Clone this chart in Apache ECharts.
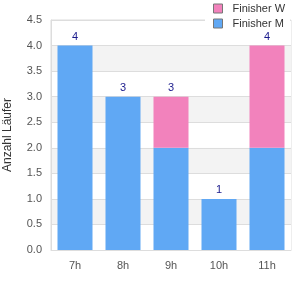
<!DOCTYPE html>
<html>
<head>
<meta charset="utf-8">
<script src="https://cdn.jsdelivr.net/npm/echarts@6/dist/echarts.min.js"></script>
<style>
  html, body { margin: 0; padding: 0; background: #fff; }
  #chart { width: 300px; height: 300px; }
</style>
</head>
<body>
<div id="chart"></div>
<script>
const hours = ['7h', '8h', '9h', '10h', '11h']
const finisherM = [4, 3, 2, 1, 2]
const finisherW = [0, 0, 1, 0, 2]
const totals = hours.map((h, i) => finisherM[i] + finisherW[i])

const chart = echarts.init(document.getElementById('chart'))
const font = 'Liberation Sans'

chart.setOption({
  animation: false,
  textStyle: { fontFamily: font },
  grid: {
    left: 51, right: 9, top: 20, bottom: 50,
    outerBoundsMode: 'none',
    show: true, borderColor: '#dddddd', borderWidth: 1
  },
  legend: {
    orient: 'vertical',
    left: 205,
    top: 0,
    itemWidth: 9,
    itemHeight: 9,
    itemGap: 4,
    icon: 'rect',
    backgroundColor: '#fff',
    padding: [3, 5, 3, 8],
    z: 10,
    textStyle: { fontFamily: font, fontSize: 11, color: '#333', padding: [0, 0, 0, 5] },
    itemStyle: { borderColor: '#777', borderWidth: 1 },
    data: ['Finisher W', 'Finisher M']
  },
  xAxis: {
    type: 'category',
    data: hours,
    axisLine: { lineStyle: { color: '#dddddd' } },
    axisTick: { show: false },
    axisLabel: { color: '#555', fontSize: 11, margin: 10 }
  },
  yAxis: {
    type: 'value',
    min: 0,
    max: 4.5,
    interval: 0.5,
    name: 'Anzahl Läufer',
    nameLocation: 'middle',
    nameGap: 37,
    nameTextStyle: { color: '#333', fontSize: 12, fontFamily: font },
    axisLine: { show: true, lineStyle: { color: '#dddddd' } },
    axisTick: { show: false },
    axisLabel: { color: '#555', fontSize: 11, margin: 9, formatter: v => v.toFixed(1) },
    splitLine: { lineStyle: { color: '#dddddd' } },
    splitArea: { show: true, areaStyle: { color: ['#ffffff', '#f3f3f3'] } }
  },
  series: [
    {
      name: 'Finisher M',
      type: 'bar',
      stack: 'total',
      barWidth: 35,
      data: finisherM,
      itemStyle: { color: '#60a8f4', borderWidth: 0 }
    },
    {
      name: 'Finisher W',
      type: 'bar',
      stack: 'total',
      barWidth: 35,
      data: finisherW,
      itemStyle: { color: '#f282bc', borderWidth: 0 },
      label: {
        show: true,
        position: 'top',
        distance: 3,
        color: '#1a1a8c',
        fontSize: 11,
        formatter: p => totals[p.dataIndex]
      }
    }
  ]
})
</script>
</body>
</html>
